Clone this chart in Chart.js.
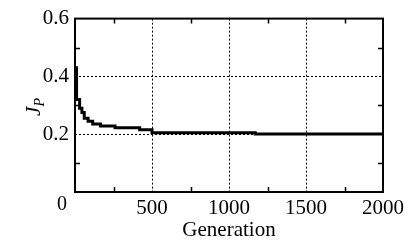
<!DOCTYPE html>
<html>
<head>
<meta charset="utf-8">
<script src="https://cdn.jsdelivr.net/npm/chart.js@4"></script>
<style>
	html, body { margin: 0; padding: 0; background: #fff; }
	#wrap { width: 408px; height: 245px; }
</style>
</head>
<body>
<div id="wrap"><canvas id="chart" width="408" height="245"></canvas></div>
<script>
// generation at which the best value changes, and the value from there on
const generations = [0, 10, 30, 45, 60, 85, 115, 165, 260, 420, 500, 1170, 2000];
const jpValues = [0.43, 0.32, 0.29, 0.275, 0.255, 0.245, 0.235, 0.228, 0.222, 0.215, 0.205, 0.201, 0.201];

const xTicks = [0, 500, 1000, 1500, 2000];
const yTicks = [0, 0.2, 0.4, 0.6];
const xMinor = [250, 750, 1250, 1750];
const yMinor = [0.1, 0.3, 0.5];

const serif = '"Liberation Serif", "DejaVu Serif", serif';
Chart.defaults.font.family = serif;
Chart.defaults.color = '#000';

const framePlugin = {
	id: 'frame',
	afterDraw(chart) {
		const { ctx, chartArea: a, scales } = chart;
		const x = scales.x, y = scales.y;
		ctx.save();
		ctx.strokeStyle = '#000';
		ctx.lineWidth = 1.5;
		ctx.beginPath();
		xMinor.forEach((v) => {
			const px = Math.round(x.getPixelForValue(v)) + 0.5;
			ctx.moveTo(px, a.bottom); ctx.lineTo(px, a.bottom - 5);
			ctx.moveTo(px, a.top); ctx.lineTo(px, a.top + 5);
		});
		yMinor.forEach((v) => {
			const py = Math.round(y.getPixelForValue(v)) + 0.5;
			ctx.moveTo(a.left, py); ctx.lineTo(a.left + 5, py);
			ctx.moveTo(a.right, py); ctx.lineTo(a.right - 5, py);
		});
		ctx.stroke();
		ctx.lineWidth = 2;
		ctx.strokeRect(a.left, a.top, a.right - a.left, a.bottom - a.top);

		ctx.fillStyle = '#000';
		// shared origin label
		ctx.font = '20px ' + serif;
		ctx.textAlign = 'center';
		ctx.textBaseline = 'middle';
		ctx.fillText('0', a.left - 13, a.bottom + 13);

		// y title: J with subscript P, rotated
		ctx.translate(40, 107);
		ctx.rotate(-Math.PI / 2);
		ctx.textBaseline = 'alphabetic';
		ctx.textAlign = 'left';
		ctx.font = 'italic 21px ' + serif;
		const jw = ctx.measureText('J').width;
		ctx.font = 'italic 14px ' + serif;
		const pw = ctx.measureText('P').width;
		const start = -(jw + pw) / 2;
		ctx.font = 'italic 21px ' + serif;
		ctx.fillText('J', start, 0);
		ctx.font = 'italic 14px ' + serif;
		ctx.fillText('P', start + jw, 4);
		ctx.restore();
	},
};

new Chart(document.getElementById('chart'), {
	type: 'line',
	data: {
		datasets: [
			{
				data: generations.map((g, i) => ({ x: g, y: jpValues[i] })),
				borderColor: '#000',
				borderWidth: 3,
				pointRadius: 0,
				stepped: true,
				fill: false,
			},
		],
	},
	options: {
		responsive: false,
		animation: false,
		devicePixelRatio: 1,
		layout: { padding: { top: 14, right: 25, left: 0, bottom: 0 } },
		plugins: {
			legend: { display: false },
			tooltip: { enabled: false },
		},
		scales: {
			x: {
				type: 'linear',
				min: 0,
				max: 2000,
				afterBuildTicks: (s) => { s.ticks = xTicks.map((v) => ({ value: v })); },
				afterFit: (s) => { s.height = 53; },
				ticks: {
					color: '#000',
					padding: 4,
					maxRotation: 0,
					font: { family: serif, size: 21 },
					callback: (v) => (v === 0 ? '' : String(v)),
				},
				grid: { color: '#000', lineWidth: 1, drawTicks: false },
				border: { display: false, dash: [2, 2] },
				title: {
					display: true,
					text: 'Generation',
					color: '#000',
					padding: { top: 0, bottom: 2 },
					font: { family: serif, size: 21 },
				},
			},
			y: {
				min: 0,
				max: 0.6,
				afterBuildTicks: (s) => { s.ticks = yTicks.map((v) => ({ value: v })); },
				afterFit: (s) => { s.width = 75; },
				ticks: {
					color: '#000',
					padding: 6,
					font: { family: serif, size: 21 },
					callback: (v) => (v === 0 ? '' : v.toFixed(1)),
				},
				grid: { color: '#000', lineWidth: 1, drawTicks: false },
				border: { display: false, dash: [2, 2] },
			},
		},
	},
	plugins: [framePlugin],
});
</script>
</body>
</html>
